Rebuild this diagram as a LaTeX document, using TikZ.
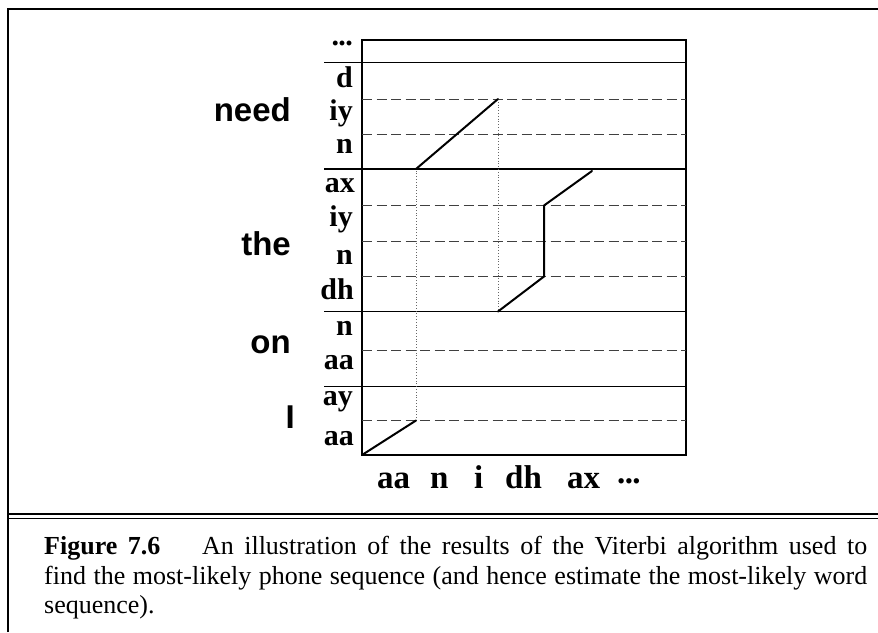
\documentclass[tikz,border=0pt]{standalone}
\usepackage{fontspec}
\setmainfont{Liberation Serif}
\newfontfamily\helvfont{Liberation Sans}
\begin{document}
\begin{tikzpicture}[x=1pt,y=-1pt,
  frameline/.style={line width=2.2pt},
  gridbox/.style={line width=1.6pt},
  wordsep/.style={line width=1.5pt},
  phonesep/.style={line width=0.9pt,dash pattern=on 10pt off 4.5pt,draw=black!75},
  pathline/.style={line width=2pt,line cap=round,line join=round},
  guide/.style={line width=0.8pt,dotted,draw=black!60},
  phonelab/.style={anchor=base east,inner sep=0pt,font=\fontsize{30}{31}\selectfont\bfseries},
  timelab/.style={anchor=base west,inner sep=0pt,font=\fontsize{33}{35}\selectfont\bfseries},
  wordlab/.style={anchor=base east,inner sep=0pt,font=\fontsize{33}{35}\selectfont\helvfont\bfseries},
  captext/.style={anchor=base west,inner sep=0pt,font=\fontsize{26}{30}\selectfont}
]
\useasboundingbox (0,0) rectangle (878,632);
% outer frame
\draw[frameline] (8,632) -- (8,9) -- (878,9);
\draw[line width=1.6pt] (8,514) -- (878,514);
\draw[line width=1.6pt] (8,518.5) -- (878,518.5);
% grid
\draw[gridbox] (362,40) rectangle (686,455);
\foreach \yy in {62.5,169,311.5,386.5} \draw[wordsep] (324,\yy) -- (686,\yy);
\foreach \yy in {99,134.5,205.5,241,276.5,350,420.5} \draw[phonesep] (362,\yy) -- (686,\yy);
% path points
\coordinate (p1) at (362,455);
\coordinate (p2) at (416,420.5);
\coordinate (p3) at (416,169);
\coordinate (p4) at (498,99);
\coordinate (p5) at (498,311.5);
\coordinate (p6) at (544,276.5);
\coordinate (p7) at (544,205.5);
\coordinate (p8) at (592,171);
\draw[guide] (p2) -- (p3);
\draw[guide] (p4) -- (p5);
\draw[pathline] (p1) -- (p2);
\draw[pathline] (p3) -- (p4);
\draw[pathline] (p5) -- (p6) -- (p7) -- (p8);
% phone labels
\node[phonelab] (l0) at (353,50) {\raisebox{0.15em}{.\kern-0.02em.\kern-0.02em.}};
\node[phonelab] (l1) at (353,87) {d};
\node[phonelab] (l2) at (353,120) {iy};
\node[phonelab] (l3) at (353,153) {n};
\node[phonelab] (l4) at (355,192) {ax};
\node[phonelab] (l5) at (353,226) {iy};
\node[phonelab] (l6) at (353,264) {n};
\node[phonelab] (l7) at (354,299) {dh};
\node[phonelab] (l8) at (353,335) {n};
\node[phonelab] (l9) at (354,369) {aa};
\node[phonelab] (l10) at (353,405) {ay};
\node[phonelab] (l11) at (354,445) {aa};
% word labels
\node[wordlab] (w1) at (291,121) {need};
\node[wordlab] (w2) at (291,255) {the};
\node[wordlab] (w3) at (291,353) {on};
\node[wordlab] (w4) at (295,428) {I};
% time labels
\node[timelab] (t1) at (377,488) {aa};
\node[timelab] (t2) at (430,488) {n};
\node[timelab] (t3) at (474,488) {i};
\node[timelab] (t4) at (505,488) {dh};
\node[timelab] (t5) at (567,488) {ax};
\node[timelab] (t6) at (617,488) {\raisebox{0.15em}{.\kern-0.02em.\kern-0.02em.}};
% caption
\node[captext] (c1) at (44,554) {\makebox[823pt][s]{\textbf{Figure 7.6}\hspace{1.2em} An illustration of the results of the Viterbi algorithm used to}};
\node[captext] (c2) at (44,584) {\makebox[823pt][s]{find the most-likely phone sequence (and hence estimate the most-likely word}};
\node[captext] (c3) at (44,613) {sequence).};
\end{tikzpicture}
\end{document}
